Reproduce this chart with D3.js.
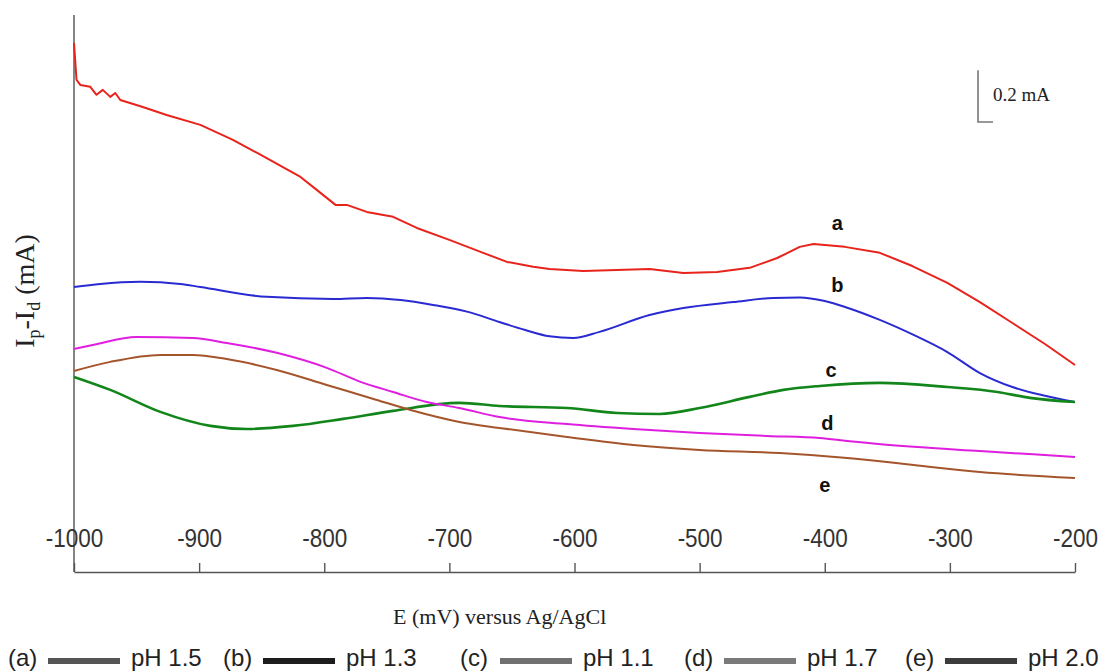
<!DOCTYPE html>
<html>
<head>
<meta charset="utf-8">
<script src="https://cdn.jsdelivr.net/npm/d3@7"></script>
<style>
  body { margin: 0; background: #fff; }
  svg { display: block; }
</style>
</head>
<body>
<div id="chart"></div>
<script>
// potential (mV vs Ag/AgCl) and current (mA, arbitrary offset)
const curveA_E = [-1000, -998, -995, -987, -982, -977, -971, -967, -963, -945, -926, -899, -873, -846, -819, -806, -791, -782, -766, -745, -726, -700, -673, -654, -633, -620, -593, -540, -513, -486, -460, -438, -420, -409, -384, -356, -330, -302, -276, -250, -224, -200];
const curveA_I = [2.042, 1.900, 1.880, 1.873, 1.842, 1.861, 1.834, 1.849, 1.822, 1.795, 1.764, 1.726, 1.668, 1.598, 1.525, 1.475, 1.417, 1.417, 1.390, 1.371, 1.328, 1.282, 1.232, 1.197, 1.178, 1.170, 1.162, 1.170, 1.154, 1.158, 1.174, 1.212, 1.255, 1.266, 1.255, 1.232, 1.181, 1.116, 1.042, 0.961, 0.880, 0.799];

const curveB_E = [-1000, -979, -947, -915, -899, -846, -793, -766, -739, -713, -686, -660, -640, -620, -601, -580, -540, -513, -473, -441, -420, -400, -382, -356, -329, -302, -276, -250, -224, -200];
const curveB_I = [1.100, 1.112, 1.120, 1.112, 1.100, 1.062, 1.054, 1.058, 1.050, 1.031, 1.005, 0.965, 0.935, 0.910, 0.903, 0.927, 0.992, 1.019, 1.042, 1.058, 1.060, 1.046, 1.020, 0.973, 0.915, 0.849, 0.768, 0.714, 0.680, 0.656];

const curveC_E = [-1000, -971, -931, -891, -862, -825, -785, -745, -692, -660, -606, -566, -532, -500, -460, -433, -404, -356, -302, -262, -236, -200];
const curveC_I = [0.753, 0.703, 0.618, 0.564, 0.552, 0.564, 0.591, 0.622, 0.653, 0.641, 0.633, 0.614, 0.610, 0.633, 0.676, 0.703, 0.718, 0.730, 0.714, 0.695, 0.672, 0.656];

const curveD_E = [-1000, -985, -950, -905, -878, -838, -798, -771, -745, -718, -692, -660, -606, -553, -500, -446, -404, -382, -329, -276, -200];
const curveD_I = [0.861, 0.876, 0.907, 0.903, 0.884, 0.846, 0.788, 0.734, 0.695, 0.656, 0.633, 0.598, 0.571, 0.552, 0.537, 0.525, 0.517, 0.506, 0.483, 0.467, 0.444];

const curveE_E = [-1000, -971, -931, -905, -878, -838, -798, -758, -731, -692, -660, -606, -553, -500, -436, -382, -329, -276, -200];
const curveE_I = [0.776, 0.811, 0.838, 0.838, 0.822, 0.780, 0.722, 0.664, 0.625, 0.579, 0.556, 0.521, 0.490, 0.471, 0.459, 0.440, 0.413, 0.386, 0.363];

const curveNames = ['a', 'b', 'c', 'd', 'e'];
const curveColors = ['#e8231c', '#2a2ad2', '#12861a', '#e01ee0', '#a5552c'];
const labelE = [-390, -390, -395, -398, -400];
const labelI = [1.347, 1.108, 0.780, 0.575, 0.336];

const xTicks = [-1000, -900, -800, -700, -600, -500, -400, -300, -200];

const legendKeys = ['(a)', '(b)', '(c)', '(d)', '(e)'];
const legendPH = ['pH 1.5', 'pH 1.3', 'pH 1.1', 'pH 1.7', 'pH 2.0'];
const legendShades = ['#555555', '#1c1c1c', '#707070', '#7a7a7a', '#3c3c3c'];

const W = 1100, H = 671;
const svg = d3.select('#chart').append('svg')
    .attr('width', W)
    .attr('height', H);

const x = d3.scaleLinear().domain([-1000, -200]).range([74, 1075]);
const y = d3.scaleLinear().domain([0, 2.15]).range([572, 15]);

const series = [
    d3.zip(curveA_E, curveA_I),
    d3.zip(curveB_E, curveB_I),
    d3.zip(curveC_E, curveC_I),
    d3.zip(curveD_E, curveD_I),
    d3.zip(curveE_E, curveE_I)
];

// y axis: bare line, no ticks
svg.append('line')
    .attr('x1', x(-1000)).attr('x2', x(-1000))
    .attr('y1', y(2.15)).attr('y2', y(0))
    .attr('stroke', '#858585')
    .attr('stroke-width', 2);

// x axis with labels sitting above it
const xAxis = svg.append('g')
    .attr('transform', `translate(0,${y(0)})`)
    .call(d3.axisTop(x).tickValues(xTicks).tickSize(9).tickPadding(16).tickSizeOuter(0).tickFormat(d3.format('d')));
xAxis.select('.domain').attr('stroke', '#555').attr('stroke-width', 1.6);
xAxis.selectAll('.tick line').attr('stroke', '#555').attr('stroke-width', 1.4);
xAxis.selectAll('.tick text')
    .attr('fill', '#333')
    .attr('font-family', 'Liberation Sans, Arial, sans-serif')
    .attr('font-size', 25)
    .attr('transform', 'scale(0.9,1)')
    .text(d => d);

// the red trace is noisy in the original, so it keeps straight segments
const smooth = d3.line()
    .x(d => x(d[0]))
    .y(d => y(d[1]))
    .curve(d3.curveMonotoneX);
const jagged = d3.line()
    .x(d => x(d[0]))
    .y(d => y(d[1]));

svg.append('g')
    .selectAll('path')
    .data(series)
    .enter()
    .append('path')
        .attr('d', (d, i) => i == 0 ? jagged(d) : smooth(d))
        .attr('fill', 'none')
        .attr('stroke', (d, i) => curveColors[i])
        .attr('stroke-width', (d, i) => i == 2 ? 2.6 : 2)
        .attr('stroke-linejoin', 'round');

svg.append('g')
    .selectAll('text')
    .data(curveNames)
    .enter()
    .append('text')
        .attr('x', (d, i) => x(labelE[i]))
        .attr('y', (d, i) => y(labelI[i]))
        .attr('text-anchor', 'middle')
        .attr('dominant-baseline', 'central')
        .attr('font-family', 'Liberation Sans, Arial, sans-serif')
        .attr('font-weight', 'bold')
        .attr('font-size', 20)
        .attr('fill', '#111')
        .text(d => d);

// 0.2 mA scale bar
const barX = 978;
const barBottom = 122;
const barTop = barBottom - (y(0) - y(0.2));
svg.append('path')
    .attr('d', `M${barX},${barTop} V${barBottom} H${barX + 15}`)
    .attr('fill', 'none')
    .attr('stroke', '#777')
    .attr('stroke-width', 1.6);
svg.append('text')
    .attr('x', 993)
    .attr('y', 101)
    .attr('font-family', 'Liberation Serif, Times New Roman, serif')
    .attr('font-size', 19)
    .attr('fill', '#222')
    .text('0.2 mA');

// axis titles
svg.append('text')
    .attr('x', 393)
    .attr('y', 624)
    .attr('font-family', 'Liberation Serif, Times New Roman, serif')
    .attr('font-size', 22)
    .attr('fill', '#222')
    .text('E (mV) versus Ag/AgCl');

const yTitle = svg.append('text')
    .attr('transform', 'translate(34,291) rotate(-90)')
    .attr('text-anchor', 'middle')
    .attr('font-family', 'Liberation Serif, Times New Roman, serif')
    .attr('font-size', 28)
    .attr('fill', '#222');
yTitle.append('tspan').text('I');
yTitle.append('tspan').attr('font-size', 18).attr('dy', 6).text('p');
yTitle.append('tspan').attr('dy', -6).text('-I');
yTitle.append('tspan').attr('font-size', 18).attr('dy', 6).text('d');
yTitle.append('tspan').attr('dy', -6).text(' (mA)');

// legend row
const legendKeyX = [8, 223, 460, 684, 905];
const legend = svg.append('g')
    .attr('font-family', 'Liberation Sans, Arial, sans-serif')
    .attr('font-size', 24)
    .attr('fill', '#222');
legendKeys.forEach(function (k, i) {
    const g = legend.append('g').attr('transform', `translate(${legendKeyX[i]},0)`);
    g.append('text').attr('x', 0).attr('y', 666).text(k);
    g.append('rect')
        .attr('x', 40).attr('y', 658)
        .attr('width', 72).attr('height', 6)
        .attr('fill', legendShades[i]);
    g.append('text').attr('x', 123).attr('y', 666).text(legendPH[i]);
});
</script>
</body>
</html>
